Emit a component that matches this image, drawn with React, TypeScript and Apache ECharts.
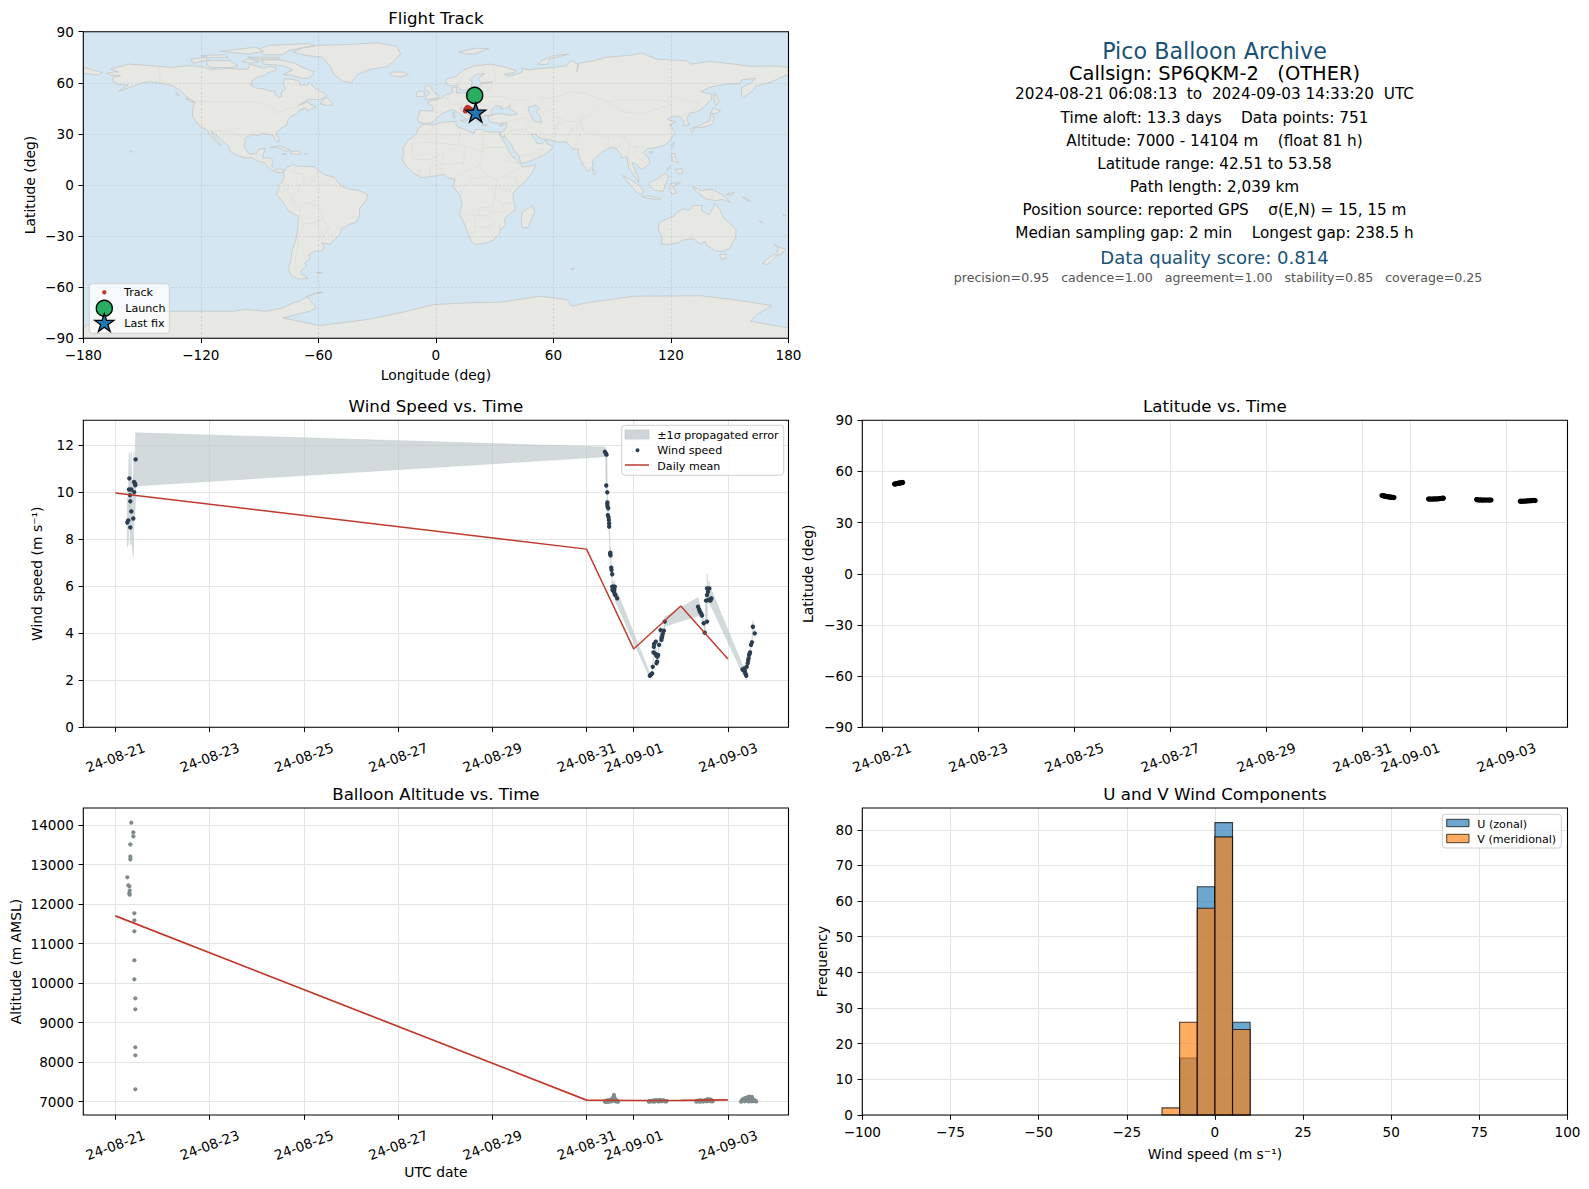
import React, { useEffect, useRef } from "react";
import * as echarts from "echarts";

const FONT = "DejaVu Sans";
const TICK_FS = 13.6;
const NAME_FS = 13.89;
const LEG_FS = 11.1;
const TITLE_FS = 16.67;

// ---- tick labels ----
const DATE_TICKS: [number, string][] = [
  [0, "24-08-21"], [2, "24-08-23"], [4, "24-08-25"], [6, "24-08-27"],
  [8, "24-08-29"], [10, "24-08-31"], [11, "24-09-01"], [13, "24-09-03"],
];
const WIND_TICKS = [0, 2, 4, 6, 8, 10, 12];
const ALT_TICKS = [7000, 8000, 9000, 10000, 11000, 12000, 13000, 14000];
const FREQ_TICKS = [0, 10, 20, 30, 40, 50, 60, 70, 80];

// ---- summary text ----
const INFO_LINES: [string, number, number, string, number][] = [
  ["Pico Balloon Archive", 51, 22.22, "#1a5276", 1214.5],
  ["Callsign: SP6QKM-2   (OTHER)", 73, 19.44, "#000000", 1214.5],
  ["2024-08-21 06:08:13  to  2024-09-03 14:33:20  UTC", 94.3, 15.28, "#000000", 1214.5],
  ["Time aloft: 13.3 days    Data points: 751", 117.5, 15.28, "#000000", 1214.5],
  ["Altitude: 7000 - 14104 m    (float 81 h)", 140.5, 15.28, "#000000", 1214.5],
  ["Latitude range: 42.51 to 53.58", 164, 15.28, "#000000", 1214.5],
  ["Path length: 2,039 km", 187, 15.28, "#000000", 1214.5],
  ["Position source: reported GPS    σ(E,N) = 15, 15 m", 210, 15.28, "#000000", 1214.5],
  ["Median sampling gap: 2 min    Longest gap: 238.5 h", 233, 15.28, "#000000", 1214.5],
  ["Data quality score: 0.814", 257, 18.06, "#1a5276", 1214.5],
  ["precision=0.95   cadence=1.00   agreement=1.00   stability=0.85   coverage=0.25", 277, 12.6, "#555555", 1218],
];

// ---- map outlines, [lon, lat] ----
const LAND: number[][][] = [
  // North America
  [[-168,65.6],[-164,66.5],[-162,66.2],[-163.5,67],[-166,68.3],[-163,69],[-157,71],[-150,70.5],[-141,69.6],[-135,69],[-128,70],[-125,70],[-120,69.5],[-115,68],[-110,68],[-105,68.5],[-100,68],[-96,68],[-95,71],[-92,70],[-88,68.5],[-85,69.5],[-81.5,69],[-82,67],[-86,66],[-87,64.5],[-91,63.5],[-94,61],[-94.5,58.8],[-92,57],[-88,56.5],[-85,55.3],[-82.3,55],[-82,53],[-80,51.2],[-78.8,52],[-79,54.5],[-76.7,56.5],[-78,58.8],[-77.5,62.4],[-73,62],[-70,61],[-69.5,58.8],[-66,58.5],[-64.5,60.3],[-61.5,56.5],[-57,54],[-55.7,52.2],[-59,50.2],[-65,50.2],[-67,49],[-70,47],[-65,49],[-64.5,47.5],[-61,46],[-64,44.5],[-66,43.5],[-66,45],[-67.5,44.7],[-70,43.7],[-70.5,42],[-74,40.5],[-75.5,38],[-76,36],[-76,35],[-78,34],[-81,31.5],[-81.4,30],[-80,26.8],[-80.5,25.2],[-82,26.5],[-83,29],[-85,29.7],[-89,30.3],[-90,29.2],[-94,29.5],[-97.2,27.8],[-97.8,22.5],[-96,19],[-94.5,18.2],[-91.5,18.5],[-90.5,21],[-87,21.5],[-88,18.5],[-88.5,16],[-84,15.8],[-83.3,14.5],[-83.8,11],[-82,9],[-79.5,9.5],[-77.3,8.7],[-78,7.5],[-80,7.3],[-81.5,7.8],[-83.5,8.5],[-85.5,10],[-87.5,13],[-91,14],[-94.5,16.2],[-97,15.8],[-101.5,17.5],[-105.5,20],[-105.5,22.5],[-109,26],[-112.5,29.5],[-114.8,31.7],[-113,28],[-110.5,24.5],[-109.8,23],[-112,25],[-115,29],[-117,32.5],[-120.6,34.5],[-122.5,37.5],[-124.3,40.3],[-124,46],[-123,48.5],[-125,50],[-128,52.5],[-130,55],[-134,58],[-138,59.3],[-146,60.7],[-150,60],[-152,59],[-157,57],[-162,55],[-157,58.7],[-162,59],[-165,61],[-165,63],[-161,64.2],[-166,64.5]],
  // South America
  [[-77.3,8.7],[-75.5,10.7],[-72,12],[-71.5,11],[-68,11],[-62,10.7],[-60,8.5],[-57,6],[-52,4.8],[-50,1.5],[-48,-0.7],[-44,-2.5],[-40,-3],[-35.2,-5.3],[-34.8,-7.5],[-37,-11],[-39,-14],[-39,-18],[-41,-22],[-44.5,-23.2],[-48.5,-26],[-48.7,-28.5],[-52,-32.5],[-54,-34.7],[-58.3,-34.2],[-57,-36.5],[-58,-38.5],[-62,-39],[-65,-41],[-64,-42.8],[-67,-45.8],[-66,-47.5],[-69,-50.5],[-68.3,-52.5],[-65.2,-54.8],[-70,-55.2],[-74,-53],[-75.5,-49],[-74,-44],[-73.5,-39],[-71.5,-32],[-70.4,-25],[-70.2,-18.5],[-75,-15.5],[-78,-10],[-81,-6],[-81,-4],[-80,-2.5],[-80.5,0],[-78.8,1.5],[-77.5,4],[-77.8,7]],
  // Africa
  [[-6,35.8],[-2,35.2],[3,36.8],[10,37.3],[10.7,34.5],[15,32.3],[19.5,30.3],[20,32.5],[23,32.7],[25,31.6],[29,31],[32.3,31.2],[32.4,29.8],[33.8,27],[36,23],[37.3,20],[38.5,17.5],[41,14.7],[43.2,12],[44,10.5],[51,11.8],[49,7],[46,2.5],[42,-1.5],[39.3,-5],[39.5,-8],[40.6,-14.5],[37,-17.5],[35,-20],[35.5,-24],[32.8,-26],[32.5,-28.5],[29,-32.5],[26,-34],[20,-34.8],[18.3,-33.5],[16.5,-28.7],[14.5,-22.5],[12,-17],[13.5,-11],[12.2,-6],[9,-1],[9.6,3.5],[6,4.3],[4,6.3],[-2,5],[-7.5,4.4],[-11.5,7],[-15,11],[-17.3,14.7],[-16.3,19],[-17,21],[-14.5,26],[-10,30],[-9,33]],
  // Eurasia
  [[-5.5,36],[-2,36.7],[0,38.7],[3,41.8],[6,43.2],[9,44.4],[10.5,43],[12.5,41.5],[16,38.3],[17,39.5],[18.5,40],[16,41.5],[13,43.6],[12.3,45.3],[13.7,45.5],[16,43.5],[19.3,41.5],[19.5,39.8],[21.5,37],[23,36.5],[24,38],[23,40.3],[26,40.8],[29,41],[28,42.8],[28.7,44.5],[30.7,46.5],[33.5,46],[33,44.6],[36,45.2],[38,47],[37.5,45],[40,43],[41.5,41.7],[38,41],[33,42],[29,41.2],[26.5,40],[27,37.5],[30,36.5],[33,36.2],[36,36.7],[36,34],[34.5,31.5],[32.6,31],[32.8,29.8],[34.3,27.8],[35,29],[35.2,28],[38.5,24],[39.5,21],[42.5,17],[43.2,13],[45,12.8],[49,14.5],[52,16],[55,17.5],[58,20],[59.8,22.5],[57,24],[56.2,26.3],[54,24.2],[51.5,24.5],[51,26],[48.5,29.5],[50.5,30],[54,27],[57,26.8],[61.5,25.2],[66.5,25.2],[68,23.7],[70,21],[72.7,21],[73,17],[75,12],[77.5,8],[79.8,10.5],[80.3,15],[82.5,17],[87,21],[90,22],[92,21.5],[94.3,18],[94.5,16],[97.5,16.5],[98.5,10],[100.5,6.5],[103.5,1.5],[103.3,4.5],[100,13.3],[102.5,12.2],[105,9],[107,10.5],[109.3,12.5],[108.5,16],[106,19],[108,21.5],[111,21.5],[114,22.5],[117,23.5],[120,27],[122,30.5],[120.5,34],[119,35],[122.5,37],[118,38.5],[121.5,40.5],[125,39.8],[126.5,37.5],[126.5,34.5],[129.3,35.5],[128,39],[130,42.5],[133,42.8],[136,45],[140.5,50],[141,53.3],[137.5,54],[135.3,54.8],[140,57.5],[149,59.3],[155,59.5],[156,61.7],[163,62.5],[161,60],[156,57],[156,52],[157,51.3],[162,55.5],[163,58],[170,60],[174,62],[180,65],[180,69],[175,69.8],[170,69.8],[160,69.7],[152,71],[140,72.5],[130,71],[128,73],[113,73.8],[105,77.5],[100,76.2],[87,75],[81,73],[73,71.5],[72,66.5],[72.5,71],[69,73],[66.5,70],[60,69],[54,68.5],[47,67.5],[44,68.5],[44,66.2],[40,64.7],[37.5,64],[35,65],[40,66],[41,67],[36,69],[28,71],[20,70],[14,67.5],[10,63.5],[5,62],[5.5,59],[8,58],[11,59],[12,56.3],[14,55.5],[18,57],[18.5,60.5],[17,62],[21,65],[25,65.5],[21.5,62.5],[23,60],[29,60.5],[24,59.5],[21.5,57.5],[21,55],[18,54.7],[14,54],[10.5,54],[10.5,57.5],[8.2,57],[8.5,54],[5,53],[3,51.3],[1.5,50.5],[-1.5,49.7],[-4.5,48.5],[-1.5,46],[-1.5,43.5],[-8,43.7],[-9.3,39],[-8.8,37]],
  // Chukotka past the date line
  [[-180,69],[-175,67.5],[-170,66],[-173,64.5],[-178,65.5],[-180,65]],
  // Greenland
  [[-73,78],[-68,80.5],[-60,82],[-45,82.5],[-30,83.5],[-20,81.5],[-18,77],[-22,72],[-25,69.5],[-33,68],[-40,65],[-43,60],[-48,61],[-52,65],[-54,70],[-58,75],[-66,76]],
  // Canadian arctic
  [[-80,73.5],[-72,71.5],[-68,69],[-62,66.5],[-64,63],[-68,62.5],[-74,64.5],[-78,65],[-73,67.5],[-78,70],[-88,71],[-89,73.5]],
  [[-117,73],[-105,73],[-101,70],[-105,68.9],[-115,69],[-117,70.5]],
  [[-125,74],[-117,75],[-116,73.5],[-124,71.5]],
  [[-90,80],[-85,82],[-65,83],[-62,82],[-75,79],[-78,76.5],[-88,76.5]],
  [[-96,75],[-80,75],[-80,73.9],[-92,74]],
  [[-120,76],[-108,76.5],[-106,75],[-116,74.8]],
  [[-96,74],[-90,72.5],[-94,71.5],[-99,72.5]],
  [[-110,78.5],[-100,79.8],[-92,81],[-88,78.5],[-96,76.8]],
  // Atlantic and Caribbean islands
  [[-59,47.7],[-56,46.8],[-53,46.8],[-53,48.5],[-56,51.5]],
  [[-84.8,22],[-80,23],[-75,21],[-74.3,20.2],[-77.5,19.9],[-78.5,21],[-82,22.2]],
  [[-74.3,19.8],[-70,19.8],[-68.5,18.5],[-71,18],[-74.3,18.4]],
  [[-78.3,18.4],[-76.3,18.2],[-77,17.8]],
  [[-67.2,18.4],[-65.7,18.4],[-66,18]],
  [[-128,50.7],[-125,50],[-123.5,48.4],[-125.5,48.8]],
  [[-133,54],[-131.8,54],[-131,52]],
  [[-61,-51.4],[-58,-51.4],[-59,-52.2]],
  [[-156,20.2],[-155,19.8],[-155.6,19]],
  [[-24,65.5],[-22,64],[-18,63.5],[-14,65],[-16,66.3],[-22,66.3]],
  [[12,78],[20,80.3],[27,80],[20,77],[15,77]],
  [[52,71],[57,70.7],[58,74],[68,76.8],[60,76],[54,73]],
  [[-5.5,50],[1,51],[1.7,52.7],[0,53.5],[-2,56],[-2,57.5],[-5,58.5],[-6,56.5],[-3,54],[-5,52]],
  [[-10,52],[-6,52],[-5.7,54.5],[-8,55.3],[-10,54]],
  // Mediterranean islands
  [[12.5,38],[15.5,38.2],[15,36.7]],
  [[8.2,41],[9.7,41],[9.5,39]],
  [[8.6,42.8],[9.5,43],[9.3,41.4]],
  [[23.5,35.5],[26.3,35.2],[24,35]],
  [[32.3,35],[34.5,35.6],[33.5,34.6]],
  // Asia and Oceania
  [[80,9.7],[81.8,7.5],[80.5,6]],
  [[95.3,5.6],[98,4],[103.5,0],[106,-3],[105,-5.8],[102,-4],[98.5,1]],
  [[105.2,-6.8],[108,-6.3],[114.5,-7.7],[114.5,-8.7],[108,-7.8]],
  [[109,1.5],[112,3],[117,7],[119,5],[117.5,1],[116,-3.8],[111,-3],[109.2,-0.5]],
  [[119.8,0.8],[125,1.5],[120.7,-0.8],[123,-4.5],[120.5,-5.5],[119.3,-3]],
  [[131,-0.8],[135,-3.2],[141,-2.6],[146,-5.5],[150.8,-10.4],[146,-8.5],[143,-9.2],[138,-8.3],[133,-4]],
  [[120.3,18.5],[122.2,18.4],[122,16],[124,13],[120.7,14]],
  [[122,9],[125.5,9.7],[126.3,7],[124,6.3]],
  [[118,9],[119.5,11.3],[119.5,10],[117.5,8.5]],
  [[120.2,23],[121.7,25.2],[120.9,22]],
  [[108.7,19.2],[110.5,20],[110,18.3]],
  [[130,33],[135.5,35.5],[140,38],[140,41],[141.5,41.3],[142,38.5],[140.8,35.5],[136.5,34],[132,33.5],[131,31]],
  [[140,42],[141.7,45.4],[145.3,43.5],[143,42]],
  [[142,54.3],[143,53],[144.5,49],[142.8,46.5],[142,50]],
  [[44,-16],[49.5,-12],[50.4,-16],[47,-25],[44,-25],[43.5,-21]],
  [[69,-49],[70.5,-49],[70,-49.7]],
  [[114,-22],[117,-20.5],[122,-18],[122.5,-16.5],[126,-14],[129.5,-14.9],[131,-12],[136,-12],[135.5,-15],[139.5,-17.5],[141.5,-13],[142.5,-10.8],[145.3,-15],[146.5,-19],[150,-22.5],[153.2,-26],[153,-31],[150,-37],[146.5,-39],[143,-38.8],[139.8,-36.5],[138,-35.5],[137.5,-33],[135,-34.8],[131.5,-31.5],[126,-32.3],[123.5,-34],[118,-35],[115,-34.3],[115.5,-31],[113.5,-26]],
  [[144.7,-40.8],[148.2,-40.8],[148,-43],[146,-43.6]],
  [[172.7,-34.5],[175,-36.5],[178.4,-37.6],[176.8,-40],[175,-41.5],[174,-39.3],[174.8,-37.5]],
  [[172.7,-40.6],[174.2,-41.5],[171,-45],[169,-46.7],[166.5,-46],[168.5,-44]],
  [[165,-21],[167,-22.3],[166.5,-22.4]],
  [[177.3,-17.5],[178.6,-18],[177.5,-18.3]],
  [[156.5,-7],[160,-8.5],[161,-10],[158,-8.5]],
  [[148,-5.5],[152.3,-4.3],[151,-6]],
  // Antarctica
  [[-180,-90],[-180,-83.9],[-168,-74.1],[-103.5,-74.1],[-96.7,-73.1],[-86.5,-74.1],[-78,-72.1],[-73,-69.2],[-69.6,-68.2],[-62,-63.3],[-57.6,-63],[-66,-65.3],[-61,-72.1],[-64.5,-74.1],[-78,-78],[-69.6,-80],[-59.3,-82.5],[-42,-80],[-35.3,-79],[-18,-75],[-1.3,-70.2],[15.7,-69.2],[32.8,-68.8],[53,-65.3],[67,-67.3],[69.4,-71.2],[77,-69.2],[101,-65.3],[135,-65],[152,-67.3],[171.5,-70.8],[164,-76],[160.5,-80],[180,-83.9],[180,-90]],
];
const LAKES: number[][][] = [
  [[47,45.5],[51,47],[53,45],[51,43],[53,41],[54,37],[50,37.3],[49,40],[47.5,43]],
];
const BORDERS: number[][][] = [
  [[-123,49],[-95,49],[-88,48],[-83,46],[-82.5,42.5],[-79,43.2],[-75,45],[-70,46],[-68,47.3],[-67.3,45]],
  [[-141,69.6],[-141,60.3],[-135,59],[-130,55]],
  [[-117,32.5],[-108,31.5],[-106,31.7],[-101,29.5],[-97.3,26]],
  [[-92,14.7],[-91,17.5],[-89,17.8]],
  [[-89.2,14],[-88.5,15.8]],[[-87.5,13],[-84,15]],[[-85.7,11],[-83.7,11]],[[-83,8.5],[-82.5,9.5]],
  [[-77.3,8.7],[-73,8],[-72,7],[-67.5,6],[-67.3,2],[-70,-0.5],[-70,-4.2],[-74,-7.5],[-73,-9.5],[-70.5,-11],[-69,-12.5],[-69.5,-17.5],[-70.2,-18.5]],
  [[-72,12],[-72.5,9],[-72,7]],
  [[-60,8.5],[-61,5],[-64,4],[-60,1],[-56,2],[-52,4.8]],
  [[-60,5],[-57,2]],
  [[-78.8,1.5],[-75,0],[-75.3,-2],[-78.5,-4.5],[-80.3,-3.5]],
  [[-69,-12.5],[-65,-10],[-60,-13.5],[-58,-17],[-58,-20],[-54.5,-25.5],[-57.5,-30],[-53.5,-33.8]],
  [[-69.5,-17.5],[-67.5,-22.8],[-62.5,-22],[-58,-20]],
  [[-62.5,-22],[-58,-27],[-54.5,-25.5]],
  [[-58,-27],[-58.3,-34]],
  [[-67.5,-22.8],[-70,-30],[-70.5,-36],[-71.8,-43],[-72,-50],[-68.5,-52.5]],
  [[-8.7,27.7],[-2,32],[-1.5,35]],[[-8.7,27.7],[-13,27.7]],[[-5,25],[12,23.5],[12,33]],
  [[-5,25],[-12,25],[-12,15]],[[4,19.5],[3,12],[-3,11]],[[-12,15],[-3,15],[4,19.5]],
  [[12,23.5],[15,23],[24,19.5],[24,30.5],[25,31.5]],[[24,22],[37,22]],
  [[15,23],[14,13],[15,8],[9.5,4]],[[3,12],[14,13]],[[3,12],[2.8,6.5]],
  [[-3,11],[-3,5]],[[-8,10],[-8,4.5]],[[24,19.5],[22,11],[27,5],[31,3.5],[35,5],[43,10]],
  [[15,8],[22,11]],[[36,14.5],[43,12.5]],[[35,5],[41,4],[42,-1.5]],
  [[27,5],[18,3.5],[12,-5]],[[31,3.5],[30,-8],[29,-13],[22,-13],[22,-18],[13,-17]],
  [[30,-1],[40,-4.5]],[[30,-8],[34,-11],[40.5,-10.5]],[[34,-11],[35,-16],[30,-15.5],[25,-18],[20,-18],[20,-28],[16.5,-28.7]],
  [[25,-18],[32,-22.5],[32.8,-26]],[[20,-24.5],[26,-25],[29.5,-22.3]],
  [[2.5,51],[6,51],[7,48],[8,47.5],[6.5,46],[7.5,43.8]],[[-1.8,43.3],[3,42.5]],[[-7,42],[-7.3,37.2]],
  [[7,53.5],[6,51]],[[8,47.5],[13,47.5],[13.7,45.5]],[[14.2,54],[15,51],[19,49.5],[22.5,49],[24,51.5],[23,54.2]],
  [[13,47.5],[17,48],[22.5,49]],[[22.5,48],[28,45],[28.5,43]],[[19.5,42],[22.5,41.3],[26,41.7]],
  [[24,51.5],[32,52],[40,50],[38,47]],[[23,54.2],[28,56],[28,59.5]],[[28,60],[31,63],[29,69]],
  [[18,69],[14,65],[12,61],[11.5,59]],[[24,68],[24,65.8]],
  [[40,50],[47,50],[49,46]],[[53,51],[60,51],[70,55],[77,53.5],[87,49]],[[87,49],[98,50],[107,50],[117,49.5],[120,53],[127,50],[135,48],[131,43]],
  [[87,49],[96,43],[105,42],[111,44],[120,47],[117,49.5]],
  [[53,42],[60,44.5],[60,41],[66,37.5],[74,37]],[[80,42],[74,39],[74,37],[75,32],[79,30],[88,28],[97,28],[98.5,24],[102,22],[107,21.7]],
  [[80,42],[87,49]],[[97,28],[94,24],[92.5,21]],[[88,28],[88.5,22]],[[61,25.2],[61,30],[61,35],[66,37.5]],[[66,25.5],[70,33],[74,37]],
  [[70,21],[74,31]],[[44.5,39.5],[48.5,38.5],[46,33],[48,30]],[[44.5,39.5],[36,36.7]],[[46,33],[39,32],[35,29.5]],[[39,32],[36,34]],
  [[52,20],[55,22],[52,16]],[[43.5,17],[52,19]],[[102,22],[101,18],[105,14.5],[107,15]],[[98.5,24],[98,17],[99,11]],[[101,6],[103,12]],
  [[141,-2.6],[141,-9.2]],[[110,2],[117,4.5]],[[127.3,41.5],[129,42.5]],[[124.5,40],[130.5,42.5]],
];

// ---- flight track ----
const TRACK_LON = [15.0, 15.2, 15.6, 15.9, 16.2, 16.6, 17.0, 17.4, 17.8, 18.2, 18.7, 19.2, 19.8];
const TRACK_LAT = [43.4, 44.2, 44.9, 45.4, 45.6, 45.3, 45.0, 44.7, 44.4, 44.0, 43.7, 43.3, 42.9];
const LAUNCH = [19.8, 52.6];
const LAST_FIX = [20.3, 42.6];

// ---- wind speed: [day since 24-08-21, m/s, sigma] ----
const WIND_AUG21 = [
  [0.254,8.70,1.05],[0.275,8.79,0.95],[0.29,10.1,1.5],[0.297,10.57,1.1],[0.311,9.86,1.5],[0.318,9.6,1.3],[0.318,8.49,0.75],
  [0.339,10.1,1.6],[0.339,9.17,1.2],[0.381,8.87,1.6],[0.396,10.42,1.3],[0.40,9.99,1.2],[0.417,10.36,1.1],[0.424,10.28,0.9],[0.43,11.38,1.13],
];
const WIND_AUG31 = [
  [10.39,11.70,0.21],[10.41,11.63,0.2],[10.425,11.58,0.2],[10.418,10.27,0.2],[10.44,9.98,0.18],[10.44,9.47,0.2],[10.443,9.55,0.2],[10.446,9.37,0.2],[10.46,9.30,0.2],
  [10.453,9.01,0.2],[10.467,8.92,0.2],[10.474,8.80,0.2],[10.48,8.66,0.2],[10.48,8.52,0.2],[10.50,7.36,0.2],[10.505,7.42,0.2],[10.51,7.30,0.2],
  [10.524,6.78,0.2],[10.53,6.68,0.2],[10.545,6.50,0.2],[10.545,5.97,0.2],[10.566,5.97,0.25],[10.60,5.97,0.25],[10.55,5.83,0.25],[10.58,5.76,0.25],
  [10.59,5.85,0.25],[10.60,5.66,0.25],[10.615,5.60,0.28],[10.65,5.48,0.28],
];
const WIND_SEP01 = [
  [11.343,2.19,0.1],[11.36,2.22,0.1],[11.38,2.26,0.1],[11.392,2.29,0.1],[11.406,2.57,0.1],[11.498,2.79,0.12],[11.484,2.72,0.12],[11.484,3.03,0.12],
  [11.519,3.07,0.12],[11.477,3.10,0.12],[11.449,3.14,0.12],[11.42,3.18,0.12],[11.505,3.0,0.12],[11.427,3.42,0.12],[11.434,3.54,0.12],[11.47,3.64,0.12],[11.54,3.50,0.12],
  [11.59,3.71,0.12],[11.604,3.85,0.12],[11.595,3.8,0.12],[11.618,3.96,0.12],[11.64,4.10,0.12],[11.57,4.13,0.12],[11.66,4.49,0.2],
];
const WIND_SEP02 = [
  [12.366,5.12,0.39],[12.387,5.02,0.3],[12.40,4.94,0.25],[12.415,4.88,0.2],[12.43,4.84,0.15],[12.45,4.75,0.15],[12.486,4.42,0.12],[12.507,4.02,0.12],[12.557,4.49,0.15],
  [12.536,5.38,0.2],[12.557,5.62,0.3],[12.557,5.90,0.64],[12.578,5.76,0.25],[12.592,5.41,0.2],[12.607,5.90,0.3],[12.627,5.38,0.25],[12.638,5.44,0.3],[12.649,5.48,0.36],
];
const WIND_SEP03 = [
  [13.31,2.46,0.18],[13.33,2.42,0.15],[13.35,2.50,0.15],[13.36,2.40,0.15],[13.37,2.29,0.15],[13.38,2.24,0.15],[13.39,2.19,0.2],[13.40,2.57,0.15],
  [13.42,2.72,0.15],[13.43,2.84,0.15],[13.44,2.93,0.15],[13.45,3.07,0.15],[13.46,3.12,0.15],[13.47,3.18,0.15],[13.49,3.50,0.15],[13.51,3.61,0.15],[13.53,4.27,0.26],[13.57,3.99,0.15],
];
const DAILY_DAYS = [0, 10, 11, 12, 13];
const DAILY_WIND = [9.95, 7.57, 3.33, 5.15, 2.9];
const DAILY_ALT = [11700, 7040, 7030, 7035, 7045];

// ---- latitude: [day, deg] ----
const LATITUDE = [
  [0.26,52.6],[0.28,52.7],[0.30,52.9],[0.32,53.0],[0.34,53.1],[0.36,53.2],[0.38,53.3],[0.40,53.4],[0.42,53.5],[0.43,53.58],
  [10.41,45.9],[10.43,45.8],[10.45,45.7],[10.47,45.5],[10.49,45.4],[10.51,45.3],[10.53,45.2],[10.55,45.1],[10.57,45.0],[10.59,44.9],[10.61,44.9],[10.63,44.8],[10.66,44.7],
  [11.38,43.8],[11.40,43.8],[11.43,43.8],[11.46,43.8],[11.49,43.9],[11.52,43.9],[11.55,43.9],[11.58,44.0],[11.61,44.1],[11.64,44.2],[11.67,44.3],[11.69,44.3],
  [12.38,43.5],[12.40,43.4],[12.43,43.3],[12.46,43.3],[12.49,43.2],[12.52,43.2],[12.55,43.2],[12.58,43.2],[12.62,43.2],[12.65,43.2],[12.68,43.2],
  [13.29,42.55],[13.31,42.51],[13.34,42.55],[13.37,42.6],[13.40,42.65],[13.43,42.7],[13.46,42.8],[13.49,42.85],[13.52,42.9],[13.55,43.0],[13.58,43.0],[13.6,42.95],
];

// ---- altitude: [day, m] ----
const ALT_AUG21 = [
  [0.339,14058],[0.382,13814],[0.382,13713],[0.318,13510],[0.318,13199],[0.318,13131],[0.255,12677],[0.276,12475],[0.297,12449],[0.304,12340],[0.297,12271],[0.304,12237],
  [0.403,11767],[0.403,11590],[0.403,11311],[0.403,10577],[0.403,10097],[0.424,9616],[0.424,9338],[0.424,8377],[0.424,8174],[0.424,7314],
];
const ALT_FLOAT = [
  [10.39,7000],[10.40,7020],[10.41,7010],[10.42,7000],[10.43,7005],[10.44,7030],[10.45,7020],[10.46,7000],[10.47,7010],[10.48,7025],[10.49,7040],[10.50,7005],[10.51,7020],[10.52,7045],[10.53,7060],[10.54,7010],[10.55,7050],[10.56,7100],[10.57,7075],[10.58,7170],[10.59,7120],[10.60,7040],[10.61,7060],[10.62,7005],[10.63,7020],[10.64,7035],[10.65,7005],[10.67,7000],
  [11.32,7000],[11.34,7015],[11.36,7005],[11.38,7020],[11.40,7010],[11.42,7030],[11.44,7000],[11.46,7035],[11.47,7020],[11.50,7040],[11.52,7005],[11.53,7020],[11.55,7010],[11.56,7045],[11.58,7025],[11.60,7010],[11.62,7035],[11.64,7030],[11.66,7010],[11.68,7005],[11.70,7015],
  [12.33,7000],[12.35,7020],[12.37,7010],[12.39,7030],[12.41,7000],[12.43,7035],[12.44,7020],[12.46,7010],[12.48,7005],[12.50,7025],[12.52,7040],[12.54,7020],[12.55,7010],[12.57,7065],[12.58,7030],[12.60,7020],[12.62,7040],[12.63,7060],[12.65,7010],[12.66,7030],[12.68,7010],
  [13.28,7000],[13.30,7040],[13.31,7020],[13.33,7070],[13.34,7060],[13.36,7010],[13.37,7090],[13.38,7030],[13.39,7050],[13.40,7075],[13.41,7110],[13.42,7030],[13.43,7080],[13.44,7005],[13.45,7130],[13.46,7045],[13.47,7090],[13.48,7020],[13.49,7100],[13.50,7010],[13.51,7120],[13.52,7040],[13.53,7060],[13.54,7015],[13.55,7040],[13.56,7030],[13.58,7020],[13.60,7005],
];

// ---- histogram: [bin start, count], bin width 5 m/s ----
const BIN_WIDTH = 5;
const HIST_U = [[-10,16],[-5,64],[0,82],[5,26]];
const HIST_V = [[-15,2],[-10,26],[-5,58],[0,78],[5,24]];

// ---- layout ----
const L1 = 83.3, L2 = 862.3, W = 705.2;
const T1 = 31.7, H1 = 306.6, T2 = 420.3, T3 = 808, H = 307;
const PANELS = [
  [L1, T1, W, H1], [L1, T2, W, H], [L2, T2, W, H], [L1, T3, W, H], [L2, T3, W, H],
];
const RED = "#c0392b";
const TXT = "#000000";

const STAR = [[0,-10],[2.245,-3.09],[9.51,-3.09],[3.633,1.18],[5.878,8.09],[0,3.82],[-5.878,8.09],[-3.633,1.18],[-9.51,-3.09],[-2.245,-3.09]];
const STAR_PATH = "path://M" + STAR.map((p) => p.join(",")).join("L") + "Z";

const fmtNum = (v: number) => String(v).replace("-", "\u2212");
const dateLabel = (v: number) => {
  const t = DATE_TICKS.find((d) => d[0] === v);
  return t ? t[1] : "";
};
const DAY_VALUES = DATE_TICKS.map((d) => d[0]);
const TICK_STYLE = { color: "#000", width: 1 };
const HIDDEN_LINE = { show: false, onZero: false };
const LIGHT_GRID = { show: true, lineStyle: { color: "#e4e4e4", width: 1 } };
const MAP_GRID = { show: true, lineStyle: { color: "rgba(110,110,110,0.24)", width: 0.7, type: [2, 2] } };

function xDate(gridIndex: number, min: number, max: number, name?: string) {
  return {
    type: "value", gridIndex, min, max, name, nameLocation: "middle", nameGap: 50,
    nameTextStyle: { fontSize: NAME_FS, color: TXT },
    axisLine: HIDDEN_LINE,
    axisTick: { show: true, length: 4.8, customValues: DAY_VALUES, lineStyle: TICK_STYLE },
    axisLabel: {
      customValues: DAY_VALUES, formatter: dateLabel, rotate: 20, align: "center", verticalAlign: "middle",
      margin: 30, fontSize: TICK_FS, color: TXT, hideOverlap: false,
    },
    splitLine: LIGHT_GRID,
  };
}
function xVal(gridIndex: number, min: number, max: number, interval: number, name: string, gap: number, extra: any = {}) {
  return {
    type: "value", gridIndex, min, max, interval, name, nameLocation: "middle", nameGap: gap,
    nameTextStyle: { fontSize: NAME_FS, color: TXT },
    axisLine: HIDDEN_LINE,
    axisTick: { show: true, length: 4.8, lineStyle: TICK_STYLE },
    axisLabel: { fontSize: TICK_FS, color: TXT, margin: 10, formatter: fmtNum },
    splitLine: LIGHT_GRID,
    ...extra,
  };
}
function yVal(gridIndex: number, min: number, max: number, ticks: number[], name: string, gap: number, extra: any = {}) {
  return {
    type: "value", gridIndex, min, max, name, nameLocation: "middle", nameGap: gap, nameRotate: 90,
    nameTextStyle: { fontSize: NAME_FS, color: TXT },
    axisLine: HIDDEN_LINE,
    axisTick: { show: true, length: 4.8, customValues: ticks, lineStyle: TICK_STYLE },
    axisLabel: { fontSize: TICK_FS, color: TXT, margin: 9.5, customValues: ticks, formatter: fmtNum },
    splitLine: LIGHT_GRID,
    ...extra,
  };
}

const textEl = (text: string, x: number, y: number, fontSize: number, fill = TXT, align = "left") => ({
  type: "text", x, y, silent: true, z: 60,
  style: { text, fill, fontSize, fontFamily: FONT, align, verticalAlign: "middle" },
});
const boxEl = (x: number, y: number, width: number, height: number) => ({
  type: "rect", shape: { x, y, width, height, r: 3 }, silent: true, z: 55,
  style: { fill: "rgba(255,255,255,0.8)", stroke: "#d0d0d0", lineWidth: 1 },
});

export default function App() {
  const ref = useRef<HTMLDivElement>(null);
  useEffect(() => {
    const chart = echarts.init(ref.current!, undefined, { renderer: "svg" });
    const wind = [...WIND_AUG21, ...WIND_AUG31, ...WIND_SEP01, ...WIND_SEP02, ...WIND_SEP03].sort((a, b) => a[0] - b[0]);
    const altitude = [...ALT_AUG21, ...ALT_FLOAT];
    const upper = wind.map((p) => [p[0], p[1] + p[2]]);
    const lower = wind.map((p) => [p[0], p[1] - p[2]]).reverse();
    const bandPts = [...upper, ...lower];

    const polyItem = (list: number[][][], fill: string | null, stroke: string, lineWidth: number, kind: string) =>
      (params: any, api: any) => ({
        type: kind,
        shape: { points: list[params.dataIndex].map((p) => api.coord(p)) },
        style: { fill, stroke, lineWidth },
        silent: true,
      });
    const histItem = (list: number[][], fill: string) => (params: any, api: any) => {
      const [b, c] = list[params.dataIndex];
      const a = api.coord([b, c]);
      const z = api.coord([b + BIN_WIDTH, 0]);
      return {
        type: "rect",
        shape: { x: a[0], y: a[1], width: z[0] - a[0], height: z[1] - a[1] },
        style: { fill, stroke: "rgba(0,0,0,0.72)", lineWidth: 1.1 },
        silent: true,
      };
    };

    const graphic: any[] = [
      ...PANELS.map(([x, y, width, height]) => ({
        type: "rect", shape: { x, y, width, height }, silent: true, z: 50,
        style: { fill: "none", stroke: "#000", lineWidth: 1.1 },
      })),
      ...INFO_LINES.map(([t, y, size, color, cx]) => textEl(t, cx, y, size, color, "center")),
      // map legend
      boxEl(89.3, 283.7, 80, 49.6),
      { type: "circle", shape: { cx: 104.3, cy: 292.3, r: 2.2 }, z: 56, silent: true, style: { fill: RED } },
      textEl("Track", 124, 292.3, LEG_FS),
      { type: "circle", shape: { cx: 104.3, cy: 308.3, r: 8 }, z: 56, silent: true, style: { fill: "#27ae60", stroke: "#000", lineWidth: 1.4 } },
      textEl("Launch", 125.3, 308.3, LEG_FS),
      { type: "polygon", x: 104.3, y: 323.5, shape: { points: STAR }, z: 57, silent: true, style: { fill: "#1f77b4", stroke: "#000", lineWidth: 1.3 } },
      textEl("Last fix", 124.3, 323.3, LEG_FS),
      // wind legend
      boxEl(621.7, 425.3, 162, 49.9),
      { type: "rect", shape: { x: 625, y: 430, width: 24, height: 9 }, z: 56, silent: true, style: { fill: "#d0d6d8", stroke: "#c4cbce", lineWidth: 0.8 } },
      textEl("±1σ propagated error", 657.3, 435, LEG_FS),
      { type: "circle", shape: { cx: 637.5, cy: 450.3, r: 2 }, z: 56, silent: true, style: { fill: "#2c3e50" } },
      textEl("Wind speed", 657.3, 450.3, LEG_FS),
      { type: "line", shape: { x1: 625, y1: 465, x2: 649, y2: 465 }, z: 56, silent: true, style: { stroke: RED, lineWidth: 1.5 } },
      textEl("Daily mean", 657.3, 466, LEG_FS),
      // histogram legend
      boxEl(1442.3, 814.3, 119, 33.7),
      { type: "rect", shape: { x: 1446.7, y: 819.3, width: 22.3, height: 7.4 }, z: 56, silent: true, style: { fill: "rgba(31,119,180,0.65)", stroke: "rgba(0,0,0,0.72)", lineWidth: 1 } },
      textEl("U (zonal)", 1477.3, 824, LEG_FS),
      { type: "rect", shape: { x: 1446.7, y: 834.3, width: 22.3, height: 8.4 }, z: 56, silent: true, style: { fill: "rgba(255,127,14,0.65)", stroke: "rgba(0,0,0,0.72)", lineWidth: 1 } },
      textEl("V (meridional)", 1477.3, 839, LEG_FS),
    ];

    const titleOf = (text: string, left: number, top: number) => ({
      text, left: left - 5, top, textAlign: "center",
      textStyle: { fontSize: TITLE_FS, fontWeight: "normal", color: TXT, fontFamily: FONT },
    });
    const W2 = W / 2;

    chart.setOption({
      animation: false,
      backgroundColor: "#ffffff",
      textStyle: { fontFamily: FONT },
      title: [
        titleOf("Flight Track", L1 + W2, 4.8),
        titleOf("Wind Speed vs. Time", L1 + W2, 392.8),
        titleOf("Latitude vs. Time", L2 + W2, 392.8),
        titleOf("Balloon Altitude vs. Time", L1 + W2, 781.3),
        titleOf("U and V Wind Components", L2 + W2, 781.3),
      ],
      grid: PANELS.map(([left, top, width, height], i) => ({
        left, top, width, height, show: i === 0, backgroundColor: i === 0 ? "#d4e6f1" : "transparent", borderWidth: 0,
      })),
      xAxis: [
        xVal(0, -180, 180, 60, "Longitude (deg)", 30, { z: 5, splitLine: MAP_GRID }),
        xDate(1, -0.68, 14.286),
        xDate(2, -0.411, 14.273),
        xDate(3, -0.68, 14.286, "UTC date"),
        xVal(4, -100, 100, 25, "Wind speed (m s⁻¹)", 32),
      ],
      yAxis: [
        { ...yVal(0, -90, 90, [-90, -60, -30, 0, 30, 60, 90], "Latitude (deg)", 46), z: 5, splitLine: MAP_GRID },
        yVal(1, 0, 13.04, WIND_TICKS, "Wind speed (m s⁻¹)", 39.5),
        yVal(2, -90, 90, [-90, -60, -30, 0, 30, 60, 90], "Latitude (deg)", 47),
        yVal(3, 6663, 14430, ALT_TICKS, "Altitude (m AMSL)", 60.5),
        yVal(4, 0, 86.1, FREQ_TICKS, "Frequency", 33.5),
      ],
      graphic,
      series: [
        {
          name: "Land", type: "custom", xAxisIndex: 0, yAxisIndex: 0, z: 2, silent: true,
          data: LAND.map(() => [0, 0]), encode: { x: 0, y: 1 },
          renderItem: polyItem(LAND, "#e7e7e3", "#c3c6c6", 0.8, "polygon"),
        },
        {
          name: "Lakes", type: "custom", xAxisIndex: 0, yAxisIndex: 0, z: 2, silent: true,
          data: LAKES.map(() => [0, 0]), encode: { x: 0, y: 1 },
          renderItem: polyItem(LAKES, "#d4e6f1", "#c3c6c6", 0.8, "polygon"),
        },
        {
          name: "Borders", type: "custom", xAxisIndex: 0, yAxisIndex: 0, z: 2, silent: true,
          data: BORDERS.map(() => [0, 0]), encode: { x: 0, y: 1 },
          renderItem: polyItem(BORDERS, null, "#dcdcd8", 0.7, "polyline"),
        },
        {
          name: "Track", type: "scatter", xAxisIndex: 0, yAxisIndex: 0, z: 6, silent: true, symbolSize: 5,
          data: TRACK_LON.map((lon, i) => [lon, TRACK_LAT[i]]), itemStyle: { color: RED, opacity: 1 },
        },
        {
          name: "Launch", type: "scatter", xAxisIndex: 0, yAxisIndex: 0, z: 7, silent: true, symbolSize: 16,
          data: [LAUNCH], itemStyle: { color: "#27ae60", borderColor: "#000", borderWidth: 1.4, opacity: 1 },
        },
        {
          name: "Last fix", type: "scatter", xAxisIndex: 0, yAxisIndex: 0, z: 8, silent: true, symbol: STAR_PATH, symbolSize: [20, 19],
          data: [LAST_FIX], itemStyle: { color: "#1f77b4", borderColor: "#000", borderWidth: 1.3, opacity: 1 },
        },
        {
          name: "±1σ propagated error", type: "custom", xAxisIndex: 1, yAxisIndex: 1, z: 2, silent: true,
          data: [[0, 0]], encode: { x: 0, y: 1 },
          renderItem: polyItem([bandPts], "rgba(190,200,203,0.68)", "rgba(190,200,203,0.5)", 0.8, "polygon"),
        },
        {
          name: "Wind speed", type: "scatter", xAxisIndex: 1, yAxisIndex: 1, z: 3, silent: true, symbolSize: 4.4,
          data: wind.map((p) => [p[0], p[1]]), itemStyle: { color: "#2c3e50", opacity: 1 },
        },
        {
          name: "Daily mean", type: "line", xAxisIndex: 1, yAxisIndex: 1, z: 4, silent: true, symbol: "none",
          data: DAILY_DAYS.map((d, i) => [d, DAILY_WIND[i]]), lineStyle: { color: RED, width: 1.4 },
        },
        {
          name: "Latitude", type: "scatter", xAxisIndex: 2, yAxisIndex: 2, z: 3, silent: true, symbolSize: 5.2,
          data: LATITUDE, itemStyle: { color: "#000", opacity: 1 },
        },
        {
          name: "Altitude", type: "scatter", xAxisIndex: 3, yAxisIndex: 3, z: 3, silent: true, symbolSize: 4.2,
          data: altitude, itemStyle: { color: "#7f8c8d", opacity: 1 },
        },
        {
          name: "Altitude daily mean", type: "line", xAxisIndex: 3, yAxisIndex: 3, z: 4, silent: true, symbol: "none",
          data: DAILY_DAYS.map((d, i) => [d, DAILY_ALT[i]]), lineStyle: { color: RED, width: 1.7 },
        },
        {
          name: "U (zonal)", type: "custom", xAxisIndex: 4, yAxisIndex: 4, z: 2, silent: true,
          data: HIST_U, encode: { x: 0, y: 1 }, renderItem: histItem(HIST_U, "rgba(31,119,180,0.65)"),
        },
        {
          name: "V (meridional)", type: "custom", xAxisIndex: 4, yAxisIndex: 4, z: 3, silent: true,
          data: HIST_V, encode: { x: 0, y: 1 }, renderItem: histItem(HIST_V, "rgba(255,127,14,0.65)"),
        },
      ],
    });
    return () => chart.dispose();
  }, []);
  return <div ref={ref} style={{ position: "absolute", left: 0, top: 0, width: 1589, height: 1189 }} />;
}
